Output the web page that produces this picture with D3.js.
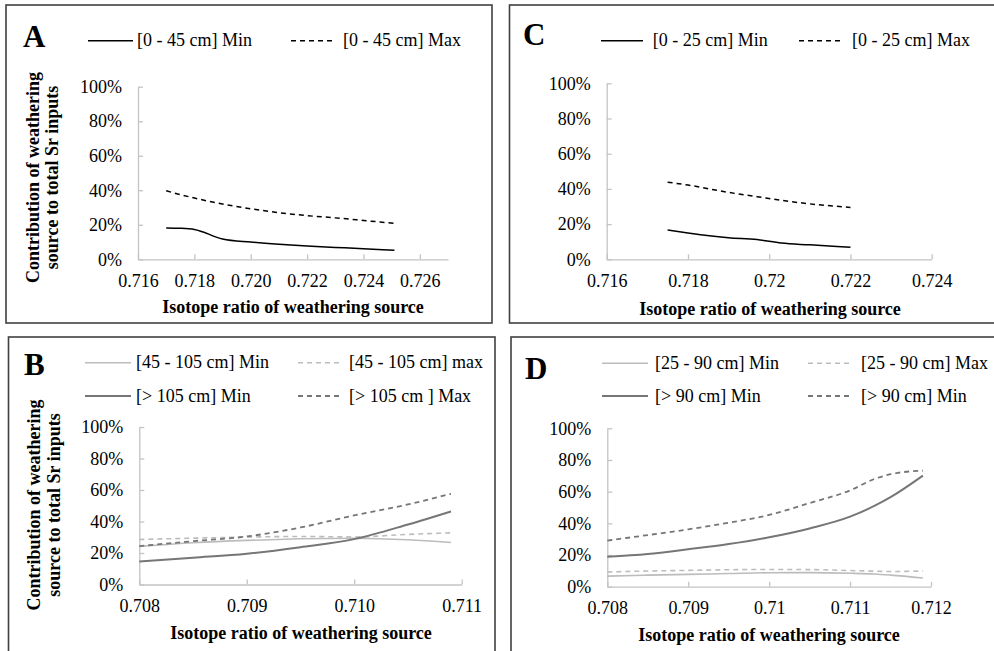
<!DOCTYPE html>
<html><head><meta charset="utf-8">
<script src="https://cdn.jsdelivr.net/npm/d3@7"></script>
<style>body{margin:0;background:#fff}svg{display:block}text{font-family:"Liberation Serif","Times New Roman",serif;fill:#000}</style>
</head><body><svg id="c" width="994" height="651"></svg>
<script>
// ---- Panel A data ----
const xA = [0.717, 0.7175, 0.718, 0.719, 0.720, 0.721, 0.722, 0.723, 0.724, 0.7251];
const aMin = [18.2, 18.0, 17.3, 11.8, 10.0, 8.7, 7.7, 6.9, 6.1, 5.3];
const aMax = [39.7, 37.5, 35.5, 32.0, 29.3, 27.0, 25.3, 24.0, 22.5, 20.8];
const ticksA = ["0.716","0.718","0.720","0.722","0.724","0.726"];
const legendA = ["[0 - 45 cm] Min", "[0 - 45 cm] Max"];
// ---- Panel C data ----
const xC = [0.7175, 0.718, 0.719, 0.7197, 0.7203, 0.721, 0.722];
const cMin = [16.6, 15.0, 12.3, 11.2, 9.2, 8.2, 6.8];
const cMax = [43.8, 42.2, 38.0, 35.6, 33.5, 31.5, 29.5];
const ticksC = ["0.716","0.718","0.72","0.722","0.724"];
const legendC = ["[0 - 25 cm] Min", "[0 - 25 cm] Max"];
// ---- Panel B data ----
const xB = [0.708, 0.7085, 0.709, 0.7095, 0.710, 0.7105, 0.7109];
const bMidMin = [24.2, 26.5, 28.0, 29.0, 29.4, 28.4, 26.7];
const bMidMax = [28.6, 29.4, 30.1, 30.5, 30.2, 31.8, 32.8];
const bDeepMin = [14.6, 17.0, 19.5, 23.7, 28.8, 38.1, 46.4];
const bDeepMax = [24.4, 27.5, 30.5, 36.2, 43.9, 50.8, 57.6];
const ticksB = ["0.708","0.709","0.710","0.711"];
const legendB = ["[45 - 105 cm] Min", "[45 - 105 cm] max", "[> 105 cm] Min", "[> 105 cm ] Max"];
// ---- Panel D data ----
const xD = [0.708, 0.7085, 0.709, 0.7095, 0.710, 0.7105, 0.711, 0.7113, 0.7115, 0.7119];
const dMidMin = [6.7, 7.3, 7.8, 8.3, 8.8, 8.9, 8.5, 8.0, 7.3, 5.5];
const dMidMax = [9.3, 9.9, 10.3, 10.7, 10.9, 10.8, 10.2, 9.8, 9.6, 9.9];
const dDeepMin = [18.9, 20.6, 23.6, 26.9, 31.2, 36.8, 44.2, 51.0, 56.5, 70.1];
const dDeepMax = [29.1, 32.6, 36.2, 40.4, 45.3, 52.8, 60.8, 68.0, 71.0, 73.3];
const ticksD = ["0.708","0.709","0.71","0.711","0.712"];
const legendD = ["[25 - 90 cm] Min", "[25 - 90 cm] Max", "[> 90 cm] Min", "[> 90 cm] Min"];
const yTicks = [0, 20, 40, 60, 80, 100];
const yTitle = ["Contribution of weathering", "source to total Sr inputs"];
const xTitle = "Isotope ratio of weathering source";

const svg = d3.select("#c");
const BLACK = "#000", LIGHT = "#bcbcbc", DARK = "#767676", AXIS = "#c4c4c4";

// frames
[[6,5,486,318],[509.5,5,492,318],[8.5,337,486.5,320],[511,337,492,320]].forEach(r=>{
  svg.append("rect").attr("x",r[0]).attr("y",r[1]).attr("width",r[2]).attr("height",r[3])
    .attr("fill","none").attr("stroke","#404040").attr("stroke-width",1.6);
});

function panel(o){
  const g = svg.append("g");
  const x = d3.scaleLinear().domain(o.xd).range(o.xr);
  const y = d3.scaleLinear().domain([0,100]).range(o.yr);
  const tickVals = o.tickLabels.map(Number);
  const xa = d3.axisBottom(x).tickValues(tickVals).tickSizeInner(-5).tickSizeOuter(0).tickPadding(15)
    .tickFormat((d,i)=>o.tickLabels[i]);
  const gx = g.append("g").attr("transform",`translate(0,${o.yr[0]})`).call(xa);
  const ya = d3.axisLeft(y).tickValues(yTicks).tickSizeInner(-5).tickSizeOuter(0).tickPadding(16)
    .tickFormat(d=>d+"%");
  const gy = g.append("g").attr("transform",`translate(${o.xr[0]},0)`).call(ya);
  [gx,gy].forEach(a=>{
    a.selectAll("path,line").attr("stroke",AXIS).attr("stroke-width",1.3);
    a.selectAll("text").attr("font-size",18).attr("fill","#000");
  });
  const line = d3.line().x(d=>x(d[0])).y(d=>y(d[1])).curve(d3.curveMonotoneX);
  o.series.forEach(s=>{
    g.append("path").datum(s.xs.map((v,i)=>[v,s.ys[i]])).attr("d",line)
      .attr("fill","none").attr("stroke",s.color).attr("stroke-width",s.w)
      .attr("stroke-dasharray",s.dash?"5,4":null);
  });
  o.series.forEach((s,i)=>{
    const L = o.legend[i];
    g.append("line").attr("x1",L[0]).attr("x2",L[1]).attr("y1",L[3]).attr("y2",L[3])
      .attr("stroke",s.color).attr("stroke-width",s.w).attr("stroke-dasharray",s.dash?"5,4":null);
    g.append("text").attr("x",L[2]).attr("y",L[3]+5.5).attr("font-size",18).text(s.name);
  });
  g.append("text").attr("x",o.letter[0]).attr("y",o.letter[1]).attr("font-size",31)
    .attr("font-weight","bold").text(o.letter[2]);
  g.append("text").attr("x",o.xt[0]).attr("y",o.xt[1]).attr("text-anchor","middle")
    .attr("font-size",18).attr("font-weight","bold").text(xTitle);
  if(o.yt){
    yTitle.forEach((t,i)=>{
      g.append("text").attr("transform",`translate(${o.yt[0][i]},${o.yt[1]}) rotate(-90)`)
        .attr("text-anchor","middle").attr("font-size",18).attr("font-weight","bold").text(t);
    });
  }
}

panel({xd:[0.716,0.727], xr:[138,448], yr:[259.3,86.7], tickLabels:ticksA,
  series:[{name:legendA[0],xs:xA,ys:aMin,color:BLACK,w:1.5,dash:false},
          {name:legendA[1],xs:xA,ys:aMax,color:BLACK,w:1.5,dash:true}],
  legend:[[88,133,137,40.7],[291,333,343,40.7]],
  letter:[23,47,"A"], xt:[293,313], yt:[[39,58],177.5]});

panel({xd:[0.716,0.724], xr:[606.7,931.7], yr:[259.3,83.3], tickLabels:ticksC,
  series:[{name:legendC[0],xs:xC,ys:cMin,color:BLACK,w:1.5,dash:false},
          {name:legendC[1],xs:xC,ys:cMax,color:BLACK,w:1.5,dash:true}],
  legend:[[601,643,652.7,40.7],[799,843,852,40.7]],
  letter:[523,45,"C"], xt:[770,315]});

panel({xd:[0.708,0.711], xr:[139.3,461.7], yr:[584.5,427], tickLabels:ticksB,
  series:[{name:legendB[0],xs:xB,ys:bMidMin,color:LIGHT,w:1.6,dash:false},
          {name:legendB[1],xs:xB,ys:bMidMax,color:LIGHT,w:1.6,dash:true},
          {name:legendB[2],xs:xB,ys:bDeepMin,color:DARK,w:2,dash:false},
          {name:legendB[3],xs:xB,ys:bDeepMax,color:DARK,w:1.8,dash:true}],
  legend:[[85,131,136,362.7],[298,342,349,362.7],[85,131,136,396],[298,342,349,396]],
  letter:[24,375,"B"], xt:[301,639], yt:[[40,60],505]});

panel({xd:[0.708,0.712], xr:[607.3,931], yr:[586.7,428.3], tickLabels:ticksD,
  series:[{name:legendD[0],xs:xD,ys:dMidMin,color:LIGHT,w:1.6,dash:false},
          {name:legendD[1],xs:xD,ys:dMidMax,color:LIGHT,w:1.6,dash:true},
          {name:legendD[2],xs:xD,ys:dDeepMin,color:DARK,w:2,dash:false},
          {name:legendD[3],xs:xD,ys:dDeepMax,color:DARK,w:1.8,dash:true}],
  legend:[[602,648,655,363.3],[808,851,861,363.3],[602,648,655,396],[808,851,861,396]],
  letter:[525,379,"D"], xt:[769,641]});
</script></body></html>
